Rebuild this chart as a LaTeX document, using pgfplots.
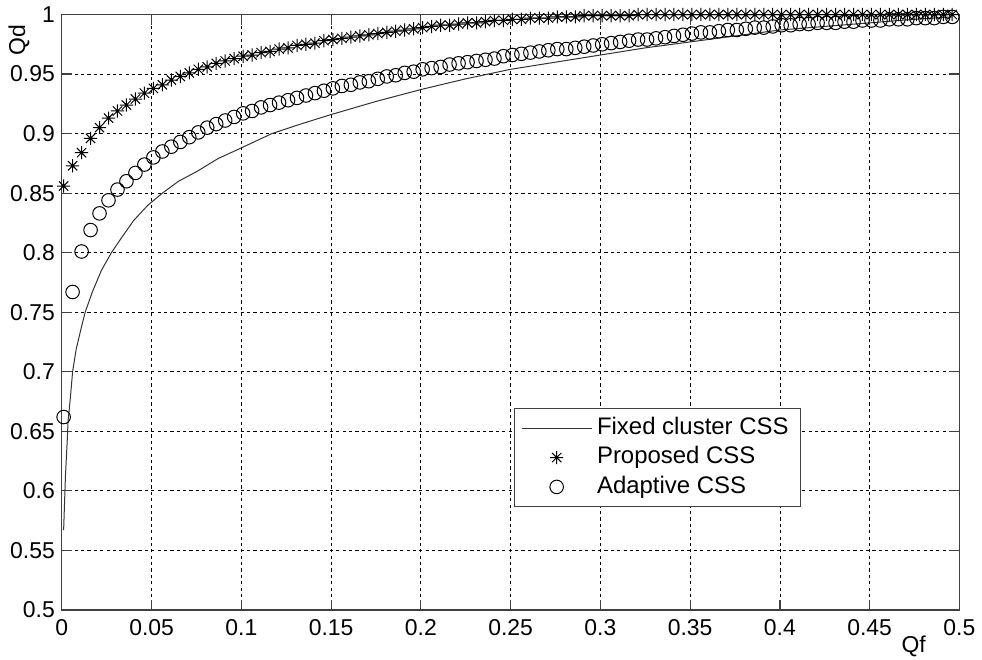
\documentclass[border=0pt]{standalone}
\usepackage{fontspec}
\setmainfont{Liberation Sans}
\usepackage{pgfplots}
\usepackage{pgfplotstable}
\pgfplotsset{compat=1.18}

% MATLAB-style 8-arm asterisk
\pgfdeclareplotmark{mstar}{%
  \pgfpathmoveto{\pgfqpoint{-\pgfplotmarksize}{0pt}}\pgfpathlineto{\pgfqpoint{\pgfplotmarksize}{0pt}}%
  \pgfpathmoveto{\pgfqpoint{0pt}{-\pgfplotmarksize}}\pgfpathlineto{\pgfqpoint{0pt}{\pgfplotmarksize}}%
  \pgfpathmoveto{\pgfqpoint{-0.7071\pgfplotmarksize}{-0.7071\pgfplotmarksize}}\pgfpathlineto{\pgfqpoint{0.7071\pgfplotmarksize}{0.7071\pgfplotmarksize}}%
  \pgfpathmoveto{\pgfqpoint{-0.7071\pgfplotmarksize}{0.7071\pgfplotmarksize}}\pgfpathlineto{\pgfqpoint{0.7071\pgfplotmarksize}{-0.7071\pgfplotmarksize}}%
  \pgfusepathqstroke}

% fixed cluster CSS (line)
\pgfplotstableread{
x y
0.001 0.567
0.002 0.612
0.003 0.642
0.0035 0.659
0.0048 0.679
0.006 0.700
0.008 0.719
0.011 0.738
0.013 0.750
0.017 0.767
0.022 0.785
0.0276 0.800
0.033 0.812
0.040 0.827
0.048 0.840
0.056 0.850
0.065 0.860
0.075 0.868
0.087 0.879
0.100 0.888
0.117 0.900
0.133 0.908
0.150 0.916
0.175 0.927
0.200 0.937
0.225 0.946
0.250 0.954
0.275 0.960
0.300 0.966
0.325 0.972
0.350 0.977
0.375 0.982
0.400 0.987
0.425 0.990
0.450 0.993
0.475 0.996
0.496 0.998
}\fixedtab

% proposed (p) and adaptive (a) CSS markers
\pgfplotstableread{
x p a
0.001 0.856 0.662
0.006 0.873 0.767
0.011 0.884 0.801
0.016 0.896 0.819
0.021 0.905 0.833
0.026 0.913 0.844
0.031 0.919 0.853
0.036 0.924 0.860
0.041 0.929 0.867
0.046 0.934 0.874
0.051 0.938 0.880
0.056 0.941 0.885
0.061 0.945 0.889
0.066 0.948 0.893
0.071 0.951 0.897
0.076 0.954 0.901
0.081 0.956 0.905
0.086 0.959 0.908
0.091 0.961 0.911
0.096 0.963 0.914
0.101 0.965 0.917
0.106 0.966 0.919
0.111 0.968 0.922
0.116 0.969 0.924
0.121 0.971 0.926
0.126 0.972 0.928
0.131 0.974 0.930
0.136 0.975 0.932
0.141 0.976 0.934
0.146 0.978 0.936
0.151 0.979 0.938
0.156 0.980 0.940
0.161 0.981 0.941
0.166 0.982 0.943
0.171 0.983 0.944
0.176 0.984 0.946
0.181 0.985 0.948
0.186 0.986 0.949
0.191 0.987 0.951
0.196 0.988 0.952
0.201 0.989 0.954
0.206 0.990 0.955
0.211 0.991 0.956
0.216 0.991 0.958
0.221 0.992 0.959
0.226 0.993 0.960
0.231 0.993 0.961
0.236 0.994 0.962
0.241 0.995 0.963
0.246 0.995 0.965
0.251 0.996 0.966
0.256 0.996 0.967
0.261 0.997 0.968
0.266 0.997 0.969
0.271 0.997 0.970
0.276 0.998 0.971
0.281 0.998 0.971
0.286 0.998 0.972
0.291 0.999 0.973
0.296 0.999 0.974
0.301 0.999 0.975
0.306 0.999 0.976
0.311 0.999 0.977
0.316 0.999 0.978
0.321 1.000 0.979
0.326 1.000 0.979
0.331 1.000 0.980
0.336 1.000 0.981
0.341 1.000 0.982
0.346 1.000 0.983
0.351 1.000 0.984
0.356 1.000 0.985
0.361 1.000 0.985
0.366 1.000 0.986
0.371 1.000 0.987
0.376 1.000 0.987
0.381 1.000 0.988
0.386 1.000 0.989
0.391 1.000 0.989
0.396 1.000 0.990
0.401 1.000 0.991
0.406 1.000 0.991
0.411 1.000 0.992
0.416 1.000 0.992
0.421 1.000 0.993
0.426 1.000 0.993
0.431 1.000 0.993
0.436 1.000 0.994
0.441 1.000 0.994
0.446 1.000 0.995
0.451 1.000 0.995
0.456 1.000 0.995
0.461 1.000 0.996
0.466 1.000 0.996
0.471 1.000 0.996
0.476 1.000 0.997
0.481 1.000 0.997
0.486 1.000 0.997
0.491 1.000 0.998
0.496 1.000 0.998
}\marktab

\begin{document}
\begin{tikzpicture}
\begin{axis}[
    scale only axis,
    width=450pt, height=298.5pt,
    xmin=0, xmax=0.5, ymin=0.5, ymax=1,
    xtick={0,0.05,0.1,0.15,0.2,0.25,0.3,0.35,0.4,0.45,0.5},
    ytick={0.5,0.55,0.6,0.65,0.7,0.75,0.8,0.85,0.9,0.95,1},
    grid=major,
    major grid style={black, line width=0.4pt, dash pattern=on 1.6pt off 1.6pt},
    axis line style={black!75, line width=0.6pt},
    tick style={black!75, line width=0.6pt},
    tick align=inside,
    major tick length=5pt,
    font=\fontsize{11.5}{13}\selectfont,
    ticklabel style={/pgf/number format/assume math mode=true,
                     /pgf/number format/fixed,
                     /pgf/number format/precision=2},
    xticklabel style={yshift=-1.5pt},
    xlabel={Qf},
    xlabel style={at={(axis description cs:0.949,-0.062)}, anchor=center, inner sep=0pt},
    ylabel={Qd},
    ylabel style={at={(axis description cs:-0.0478,0.957)}, anchor=center, inner sep=0pt},
    clip=false,
    legend cell align=left,
    legend image code/.code={\draw[mark repeat=2, mark phase=2, #1] plot coordinates {(0pt,0pt) (17.5pt,0pt) (35pt,0pt)};},
    legend style={at={(axis cs:0.2517,0.5863)}, anchor=south west,
                  draw=black!75, line width=0.6pt, fill=white,
                  font=\fontsize{12}{14}\selectfont,
                  inner xsep=3.5pt, inner ysep=2.5pt, row sep=0pt,
                  nodes={inner xsep=2.5pt, inner ysep=2pt, text height=8.4pt, text depth=2.3pt}},
]
\addplot[black!80, line width=0.5pt] table[x=x, y=y] {\fixedtab};
\addlegendentry{Fixed cluster CSS}
\addplot[only marks, mark=mstar, mark size=3.3pt, black, line width=0.5pt] table[x=x, y=p] {\marktab};
\addlegendentry{Proposed CSS}
\addplot[only marks, mark=o, mark size=3.4pt, black, line width=0.5pt] table[x=x, y=a] {\marktab};
\addlegendentry{Adaptive CSS}
\end{axis}
\path (current axis.south west) ++(-31pt,-25pt);
\path (current axis.north east) ++(10pt,6.5pt);
\end{tikzpicture}
\end{document}
